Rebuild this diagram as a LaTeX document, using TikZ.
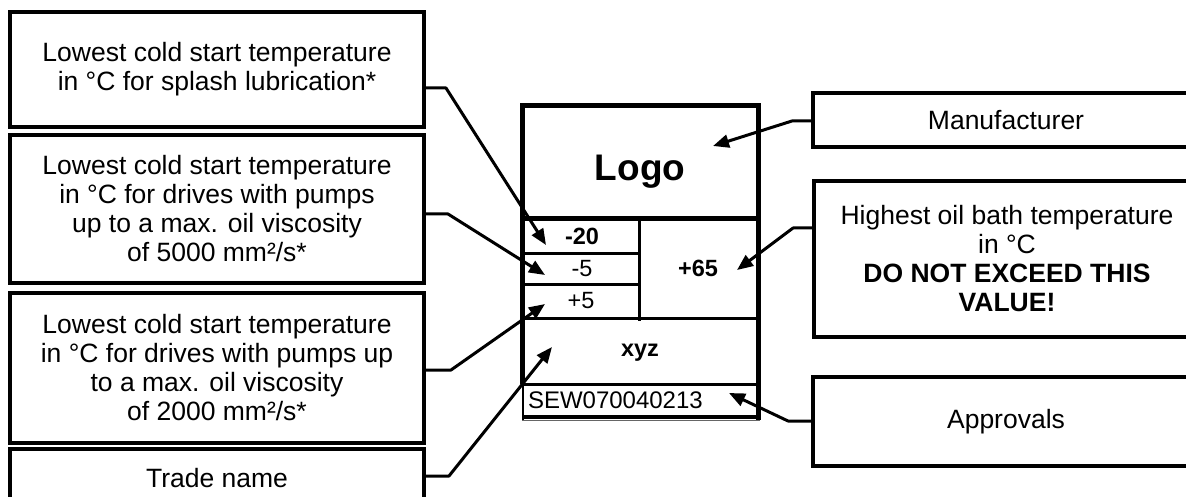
\documentclass[tikz,border=0pt]{standalone}
\usepackage{fontspec}
\setmainfont{Liberation Sans}
\usetikzlibrary{arrows.meta}
\tikzset{
  labelbox/.style={draw, line width=3.4pt, inner sep=0pt, outer sep=0pt, align=center,
    font=\fontsize{26.5}{29}\selectfont},
  leftbox/.style={labelbox, minimum width=414pt},
  rightbox/.style={labelbox, minimum width=386pt},
  pointer/.style={line width=3pt, line join=round, -{Triangle[length=16pt,width=13pt]}},
  cell/.style={inner sep=0pt, outer sep=0pt, font=\fontsize{23.5}{26}\selectfont},
  boldcell/.style={cell, font=\fontsize{23.5}{26}\selectfont\bfseries},
  thickline/.style={line width=5pt},
  thinline/.style={line width=3pt},
}
\begin{document}
\begin{tikzpicture}[x=1pt,y=-1pt]
\useasboundingbox (0,0) rectangle (1186,497);
\clip (0,0) rectangle (1186,497);

% left label boxes
\node[leftbox, minimum height=115pt] (b1) at (217,69.5)
  {Lowest cold start temperature\\in °C for splash lubrication*};
\node[leftbox, minimum height=148pt] (b2) at (217,209)
  {Lowest cold start temperature\\in °C for drives with pumps\\up to a max. oil viscosity\\of 5000 mm²/s*};
\node[leftbox, minimum height=150pt] (b3) at (217,368)
  {Lowest cold start temperature\\in °C for drives with pumps up\\to a max. oil viscosity\\of 2000 mm²/s*};
\node[leftbox, minimum height=58pt] (b4) at (217,478) {Trade name};

% right label boxes
\node[rightbox, minimum height=54pt] (m) at (1006,120) {Manufacturer};
\node[rightbox, minimum height=156pt] (h) at (1007,259)
  {Highest oil bath temperature\\in °C\\\textbf{DO NOT EXCEED THIS}\\\textbf{VALUE!}};
\node[rightbox, minimum height=89pt] (a) at (1006,421.5) {Approvals};

% nameplate
\draw[thickline] (522,384) -- (522,106) -- (758,106) -- (758,420);
\draw[thickline] (522,219) -- (758,219);
\draw[thinline] (639,219) -- (639,321);
\draw[thinline] (522,253) -- (639,253);
\draw[thinline] (522,284) -- (639,284);
\draw[thinline] (522,318) -- (758,318);
\draw[thinline] (522,384) -- (758,384);
\draw[line width=1.8pt] (523,384) -- (523,420);
\draw[line width=4pt] (524,417) -- (758,417);
\draw[line width=1pt, black!60] (522,420.5) -- (760,420.5);

\node[cell, font=\fontsize{37}{40}\selectfont\bfseries] (logo) at (640,172) {Logo};
\node[boldcell] (v20) at (582,236) {-20};
\node[cell] (v5m) at (582,268.5) {-5};
\node[cell] (v5p) at (581,301) {+5};
\node[boldcell] (v65) at (698,268.5) {+65};
\node[boldcell] (xyz) at (640,353) {xyz};
\node[cell, anchor=west, font=\fontsize{24}{26}\selectfont] (sew) at (528,400) {SEW070040213};

% connector bends and tips
\coordinate (k1) at (446,88);   \coordinate (t1) at (546,245);
\coordinate (k2) at (448,214);  \coordinate (t2) at (545,275);
\coordinate (k3) at (451,370);  \coordinate (t3) at (545,304);
\coordinate (k4) at (449,476);  \coordinate (t4) at (552,347);
\coordinate (k5) at (792,121);  \coordinate (t5) at (713,146);
\coordinate (k6) at (793,228);  \coordinate (t6) at (737,270);
\coordinate (k7) at (788,421);  \coordinate (t7) at (729,393);

\draw[pointer] (b1.east |- k1) -- (k1) -- (t1);
\draw[pointer] (b2.east |- k2) -- (k2) -- (t2);
\draw[pointer] (b3.east |- k3) -- (k3) -- (t3);
\draw[pointer] (b4.east |- k4) -- (k4) -- (t4);
\draw[pointer] (m.west |- k5) -- (k5) -- (t5);
\draw[pointer] (h.west |- k6) -- (k6) -- (t6);
\draw[pointer] (a.west |- k7) -- (k7) -- (t7);
\end{tikzpicture}
\end{document}
